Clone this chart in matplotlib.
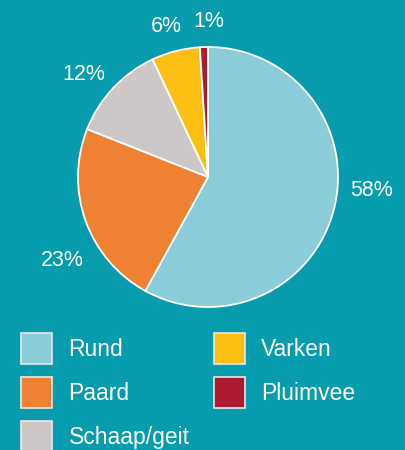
import matplotlib
matplotlib.use("Agg")
import matplotlib.pyplot as plt
from matplotlib.patches import Patch
import numpy as np

plt.rcParams["font.family"] = ["Liberation Sans", "DejaVu Sans"]

CATS = ["Rund", "Paard", "Schaap/geit", "Varken", "Pluimvee"]
SHARE = [58, 23, 12, 6, 1]
COLORS = ["#8ACCD7", "#EF8133", "#CDC8C7", "#FBBE12", "#AC1A2F"]
BG = "#069CAE"

W, H = 406, 450
fig = plt.figure(figsize=(W / 100, H / 100), dpi=100, facecolor=BG)
# pie: centre (208,177) px, radius 130 px
ax = fig.add_axes([(208 - 130) / W, 1 - (177 + 130) / H, 260 / W, 260 / H])
ax.set_facecolor(BG)
wedges, _ = ax.pie(SHARE, colors=COLORS, startangle=90, counterclock=False,
                   wedgeprops=dict(edgecolor="white", linewidth=1.3))
ax.set_xlim(-1, 1); ax.set_ylim(-1, 1); ax.set_aspect("equal"); ax.axis("off")

# percentage labels around the rim: (angle nudge in deg, radius) per slice, as placed in the original
place = [(9.5, 1.26), (10, 1.29), (3.5, 1.24), (1, 1.20), (-2, 1.20)]
cum = 0
for v, (da, r) in zip(SHARE, place):
    mid = 90 - (cum + v / 2) * 3.6
    cum += v
    a = np.deg2rad(mid + da)
    ax.text(r * np.cos(a), r * np.sin(a), f"{v}%", ha="center", va="center",
            color="white", fontsize=15.5)

handles = [Patch(facecolor=c, edgecolor="#EAEAEA", linewidth=1.2, label=l)
           for c, l in zip(COLORS, CATS)]
fig.legend(handles=handles, ncol=2, frameon=False, loc="upper left",
           bbox_to_anchor=(21 / W, 1 - 333 / H), fontsize=16.5, labelcolor="white",
           handlelength=1.354, handleheight=1.706, handletextpad=0.72,
           labelspacing=0.57, columnspacing=1.05, borderpad=0, borderaxespad=0)

fig.savefig("out.png", dpi=100, facecolor=BG)
